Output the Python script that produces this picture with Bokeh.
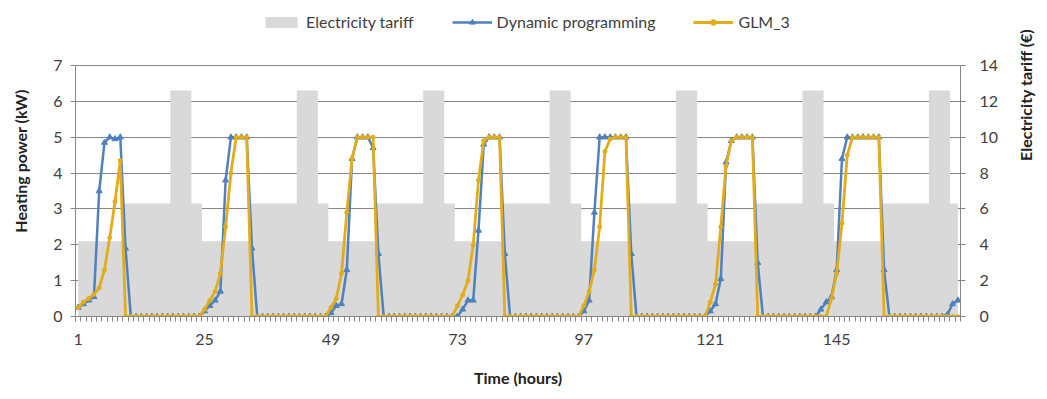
import math
from bokeh.plotting import figure
from bokeh.models import (Range1d, LinearAxis, FixedTicker, Legend, LegendItem,
                          ColumnDataSource)
from bokeh.embed import file_html
from bokeh.resources import INLINE

# ---------------- data ----------------
hours = list(range(1, 169))

# electricity tariff (EUR), hourly, 7 days
tariff = [
    4.2, 4.2, 4.2, 4.2, 4.2, 4.2, 4.2, 4.2, 4.2, 6.3, 6.3, 6.3, 6.3, 6.3, 6.3, 6.3, 6.3, 6.3, 12.6, 12.6, 12.6, 12.6, 6.3, 6.3,
    4.2, 4.2, 4.2, 4.2, 4.2, 4.2, 4.2, 4.2, 4.2, 6.3, 6.3, 6.3, 6.3, 6.3, 6.3, 6.3, 6.3, 6.3, 12.6, 12.6, 12.6, 12.6, 6.3, 6.3,
    4.2, 4.2, 4.2, 4.2, 4.2, 4.2, 4.2, 4.2, 4.2, 6.3, 6.3, 6.3, 6.3, 6.3, 6.3, 6.3, 6.3, 6.3, 12.6, 12.6, 12.6, 12.6, 6.3, 6.3,
    4.2, 4.2, 4.2, 4.2, 4.2, 4.2, 4.2, 4.2, 4.2, 6.3, 6.3, 6.3, 6.3, 6.3, 6.3, 6.3, 6.3, 6.3, 12.6, 12.6, 12.6, 12.6, 6.3, 6.3,
    4.2, 4.2, 4.2, 4.2, 4.2, 4.2, 4.2, 4.2, 4.2, 6.3, 6.3, 6.3, 6.3, 6.3, 6.3, 6.3, 6.3, 6.3, 12.6, 12.6, 12.6, 12.6, 6.3, 6.3,
    4.2, 4.2, 4.2, 4.2, 4.2, 4.2, 4.2, 4.2, 4.2, 6.3, 6.3, 6.3, 6.3, 6.3, 6.3, 6.3, 6.3, 6.3, 12.6, 12.6, 12.6, 12.6, 6.3, 6.3,
    4.2, 4.2, 4.2, 4.2, 4.2, 4.2, 4.2, 4.2, 4.2, 6.3, 6.3, 6.3, 6.3, 6.3, 6.3, 6.3, 6.3, 6.3, 12.6, 12.6, 12.6, 12.6, 6.3, 6.3,
]

# heating power (kW), Dynamic programming
dynamic_programming = [
    0.25, 0.35, 0.45, 0.55, 3.5, 4.85, 5.0, 4.95, 5.0, 1.9, 0, 0, 0, 0, 0, 0, 0, 0, 0, 0, 0, 0, 0, 0,
    0.15, 0.3, 0.45, 0.7, 3.8, 5.0, 5.0, 5.0, 5.0, 1.9, 0, 0, 0, 0, 0, 0, 0, 0, 0, 0, 0, 0, 0, 0,
    0.1, 0.3, 0.35, 1.3, 4.4, 5.0, 5.0, 5.0, 4.7, 1.75, 0, 0, 0, 0, 0, 0, 0, 0, 0, 0, 0, 0, 0, 0,
    0, 0.2, 0.45, 0.45, 2.4, 4.8, 5.0, 5.0, 5.0, 1.75, 0, 0, 0, 0, 0, 0, 0, 0, 0, 0, 0, 0, 0, 0,
    0.15, 0.45, 2.9, 5.0, 5.0, 5.0, 5.0, 5.0, 5.0, 1.75, 0, 0, 0, 0, 0, 0, 0, 0, 0, 0, 0, 0, 0, 0,
    0.15, 0.35, 1.05, 4.3, 4.9, 5.0, 5.0, 5.0, 5.0, 1.5, 0, 0, 0, 0, 0, 0, 0, 0, 0, 0, 0, 0.2, 0.4, 0.55,
    1.3, 4.4, 5.0, 5.0, 5.0, 5.0, 5.0, 5.0, 5.0, 1.3, 0, 0, 0, 0, 0, 0, 0, 0, 0, 0, 0, 0.05, 0.35, 0.45,
]

# heating power (kW), GLM_3
glm_3 = [
    0.25, 0.4, 0.5, 0.62, 0.8, 1.3, 2.2, 3.2, 4.35, 0, 0, 0, 0, 0, 0, 0, 0, 0, 0, 0, 0, 0, 0, 0,
    0.2, 0.45, 0.7, 1.2, 2.5, 4.0, 5.0, 5.0, 5.0, 0, 0, 0, 0, 0, 0, 0, 0, 0, 0, 0, 0, 0, 0, 0,
    0.25, 0.5, 1.2, 2.9, 4.4, 5.0, 5.0, 5.0, 5.0, 0, 0, 0, 0, 0, 0, 0, 0, 0, 0, 0, 0, 0, 0, 0,
    0.3, 0.6, 1.0, 2.0, 3.8, 4.9, 5.0, 5.0, 5.0, 0, 0, 0, 0, 0, 0, 0, 0, 0, 0, 0, 0, 0, 0, 0,
    0.3, 0.7, 1.3, 2.5, 4.6, 4.95, 5.0, 5.0, 5.0, 0, 0, 0, 0, 0, 0, 0, 0, 0, 0, 0, 0, 0, 0, 0,
    0.4, 0.9, 2.5, 4.2, 4.9, 5.0, 5.0, 5.0, 5.0, 0, 0, 0, 0, 0, 0, 0, 0, 0, 0, 0, 0, 0, 0, 0.5,
    1.2, 2.6, 4.5, 5.0, 5.0, 5.0, 5.0, 5.0, 5.0, 0, 0, 0, 0, 0, 0, 0, 0, 0, 0, 0, 0, 0, 0, 0,
]

x_tick_labels = [1, 25, 49, 73, 97, 121, 145]
power_ticks = [0, 1, 2, 3, 4, 5, 6, 7]
tariff_ticks = [0, 2, 4, 6, 8, 10, 12, 14]

# ---------------- style / layout ----------------
FONT = "Lato"
GRAY_AREA = "#D9D9D9"
BLUE = "#4F81BD"
GOLD = "#E2AC1A"
AXIS_GRAY = "#868686"
TEXT = "#404040"

W, H = 1047, 399
TOP, BOTTOM = 5, 83           # canvas borders
PLOT_TOP_PX = 65              # canvas y of the 7 kW line
frame_h = H - TOP - BOTTOM
px_per_kw = (H - BOTTOM - PLOT_TOP_PX) / 7.0
y_top = frame_h / px_per_kw   # extra headroom holds the legend

src = ColumnDataSource(dict(hour=hours, tariff=tariff, dp=dynamic_programming, glm=glm_3))

p = figure(width=W, height=H, output_backend="svg", toolbar_location=None,
           x_range=Range1d(0.5, 168.5), y_range=Range1d(0, y_top),
           min_border_left=75, min_border_right=85, min_border_top=TOP,
           min_border_bottom=BOTTOM)
p.extra_y_ranges = {"tariff": Range1d(0, 2 * y_top)}
p.outline_line_color = None
p.background_fill_color = "white"
p.border_fill_color = "white"

area = p.varea_step(x="hour", y1=0, y2="tariff", step_mode="center", source=src,
                    fill_color=GRAY_AREA, y_range_name="tariff")

dp_line = p.line("hour", "dp", source=src, line_color=BLUE, line_width=2.5)
dp_mk = p.scatter("hour", "dp", source=src, marker="triangle", size=6,
                  fill_color=BLUE, line_color=BLUE)
glm_line = p.line("hour", "glm", source=src, line_color=GOLD, line_width=2.8)
glm_mk = p.scatter("hour", "glm", source=src, marker="circle", size=4,
                   fill_color=GOLD, line_color=GOLD)

# x axis
xa = p.xaxis[0]
xa.ticker = FixedTicker(ticks=x_tick_labels, minor_ticks=[h - 0.5 for h in hours] + [168.5])
xa.axis_label = "Time (hours)"
xa.major_tick_line_color = None
xa.major_tick_out = 0
xa.major_tick_in = 0
xa.minor_tick_out = 5
xa.minor_tick_in = 0
xa.minor_tick_line_color = AXIS_GRAY
xa.axis_line_color = AXIS_GRAY
xa.major_label_standoff = 12
xa.axis_label_standoff = 20

# left axis
ya = p.yaxis[0]
ya.ticker = FixedTicker(ticks=power_ticks)
ya.bounds = (0, 7)
ya.axis_label = "Heating power (kW)"
ya.major_tick_out = 5
ya.major_tick_in = 0
ya.minor_tick_line_color = None
ya.major_tick_line_color = AXIS_GRAY
ya.axis_line_color = AXIS_GRAY
ya.major_label_standoff = 8
ya.axis_label_standoff = 20

# right axis
ra = LinearAxis(y_range_name="tariff", ticker=FixedTicker(ticks=tariff_ticks),
                axis_label="Electricity tariff (€)", bounds=(0, 14))
ra.major_tick_out = 5
ra.major_tick_in = 0
ra.minor_tick_line_color = None
ra.major_tick_line_color = AXIS_GRAY
ra.axis_line_color = AXIS_GRAY
ra.major_label_standoff = 14
ra.axis_label_standoff = 24
ra.axis_label_orientation = math.pi / 2
p.add_layout(ra, "right")

for ax in (xa, ya, ra):
    ax.major_label_text_font = FONT
    ax.major_label_text_font_size = "16px"
    ax.major_label_text_color = TEXT
    ax.axis_label_text_font = FONT
    ax.axis_label_text_font_size = "16px"
    ax.axis_label_text_font_style = "bold"
    ax.axis_label_text_color = "#222222"

p.xgrid.grid_line_color = None
p.ygrid.grid_line_color = AXIS_GRAY
p.ygrid.grid_line_width = 1

legend = Legend(items=[
    LegendItem(label="Electricity tariff", renderers=[area]),
    LegendItem(label="Dynamic programming", renderers=[dp_line, dp_mk]),
    LegendItem(label="GLM_3", renderers=[glm_line, glm_mk]),
], orientation="horizontal", location=(186, frame_h - 26))
legend.label_text_font = FONT
legend.label_text_font_size = "16px"
legend.label_text_color = TEXT
legend.border_line_color = None
legend.background_fill_alpha = 0
legend.glyph_width = 40
legend.glyph_height = 14
legend.spacing = 38
legend.padding = 2
legend.margin = 0
legend.label_standoff = 5
p.add_layout(legend, "center")

open("out.html", "w").write(file_html(p, INLINE))
